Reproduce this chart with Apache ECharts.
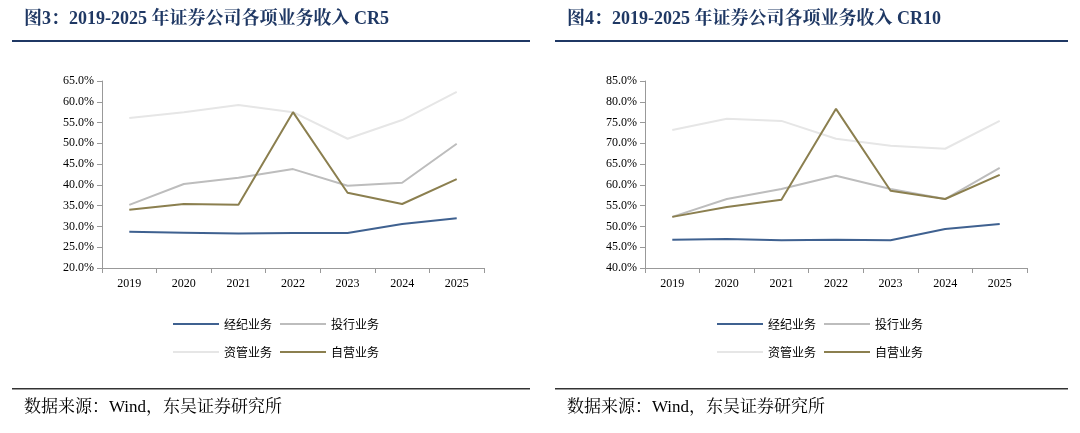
<!DOCTYPE html>
<html><head><meta charset="utf-8">
<script src="https://cdn.jsdelivr.net/npm/echarts@6/dist/echarts.min.js"></script>
<style>body{margin:0;background:#fff}#c{width:1080px;height:433px}</style>
</head><body><div id="c"></div>
<script>
var years = ['2019','2020','2021','2022','2023','2024','2025'];
var names = ['经纪业务','投行业务','资管业务','自营业务'];
var colors = ['#3f6190','#bdbdbd','#e6e6e6','#8b7f4f'];
// CR5
var cr5Broker = [28.7,28.5,28.3,28.4,28.4,30.6,32.0];
var cr5IB = [35.2,40.2,41.7,43.8,39.8,40.5,49.9];
var cr5AM = [56.1,57.5,59.2,57.5,51.1,55.6,62.4];
var cr5Prop = [34.0,35.4,35.2,57.5,38.1,35.4,41.4];
// CR10
var cr10Broker = [46.8,47.0,46.7,46.8,46.7,49.4,50.6];
var cr10IB = [52.3,56.6,59.0,62.2,59.0,56.6,64.1];
var cr10AM = [73.2,75.9,75.4,71.1,69.4,68.7,75.4];
var cr10Prop = [52.3,54.7,56.4,78.3,58.6,56.6,62.4];

var font = '"Noto Sans CJK SC"';
var serif = '"Liberation Serif","Noto Serif CJK SC",serif';
function xAx(i){return {type:'category',gridIndex:i,data:years,
  axisLine:{lineStyle:{color:'#999'}},axisTick:{show:true,inside:false,lineStyle:{color:'#999'}},
  axisLabel:{color:'#000',fontFamily:serif,fontSize:12,margin:10}};}
function yAx(i,min,max){return {type:'value',gridIndex:i,min:min,max:max,interval:5,
  axisLine:{show:true,lineStyle:{color:'#999'}},axisTick:{show:true,lineStyle:{color:'#999'}},splitLine:{show:false},
  axisLabel:{color:'#000',fontFamily:serif,fontSize:12,formatter:function(v){return v.toFixed(1)+'%';}}};}
function ser(i,name,data,c){return {type:'line',name:name,xAxisIndex:i,yAxisIndex:i,data:data,
  symbol:'none',lineStyle:{width:2,color:c},itemStyle:{color:c}};}
function legends(left){return [
  {left:left,top:313,itemWidth:46,itemHeight:2,itemGap:8,icon:'rect',data:names.slice(0,2),
   textStyle:{fontFamily:font,fontSize:12,color:'#000'}},
  {left:left,top:341,itemWidth:46,itemHeight:2,itemGap:8,icon:'rect',data:names.slice(2,4),
   textStyle:{fontFamily:font,fontSize:12,color:'#000'}}];}
var tStyle = {fontFamily:serif,fontWeight:'bold',fontSize:18,fill:'#1f3864'};
var sStyle = {fontFamily:serif,fontSize:17,fill:'#000'};
var chart = echarts.init(document.getElementById('c'));
chart.setOption({
  animation:false,
  color:colors,
  grid:[{left:102,top:81,width:382,height:187},{left:645,top:81,width:382,height:187}],
  xAxis:[xAx(0),xAx(1)],
  yAxis:[yAx(0,20,65),yAx(1,40,85)],
  legend:legends(168).concat(legends(712)),
  series:[ser(0,names[0],cr5Broker,colors[0]),ser(0,names[1],cr5IB,colors[1]),
          ser(0,names[2],cr5AM,colors[2]),ser(0,names[3],cr5Prop,colors[3]),
          ser(1,names[0],cr10Broker,colors[0]),ser(1,names[1],cr10IB,colors[1]),
          ser(1,names[2],cr10AM,colors[2]),ser(1,names[3],cr10Prop,colors[3])],
  graphic:[
    {type:'text',left:24,top:10,style:Object.assign({text:'图3：2019-2025 年证券公司各项业务收入 CR5'},tStyle)},
    {type:'text',left:567,top:10,style:Object.assign({text:'图4：2019-2025 年证券公司各项业务收入 CR10'},tStyle)},
    {type:'rect',shape:{x:12,y:40,width:518,height:2},style:{fill:'#1f3864'}},
    {type:'rect',shape:{x:555,y:40,width:513,height:2},style:{fill:'#1f3864'}},
    {type:'rect',shape:{x:12,y:388,width:518,height:1.5},style:{fill:'#333'}},
    {type:'rect',shape:{x:555,y:388,width:513,height:1.5},style:{fill:'#333'}},
    {type:'text',left:24,top:399,style:Object.assign({text:'数据来源：Wind，东吴证券研究所'},sStyle)},
    {type:'text',left:567,top:399,style:Object.assign({text:'数据来源：Wind，东吴证券研究所'},sStyle)}
  ]
});
</script></body></html>
